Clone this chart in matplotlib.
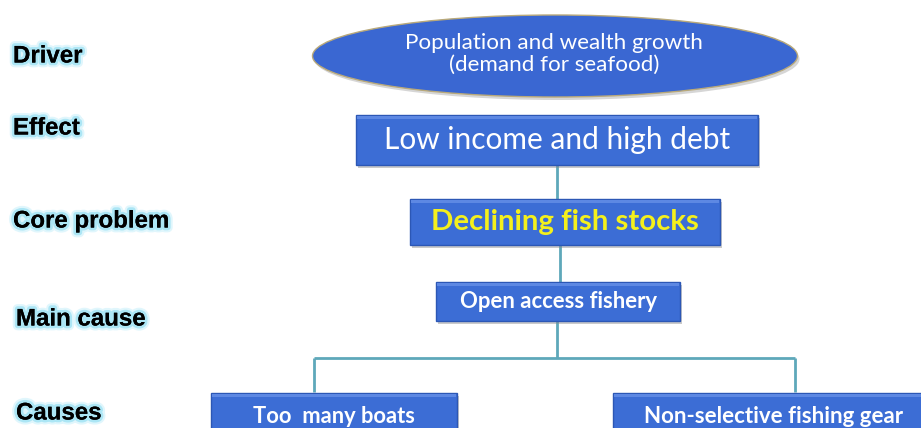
import matplotlib.pyplot as plt
from matplotlib.patches import Ellipse, Rectangle
import matplotlib.patheffects as pe

# level names on the left
levels = ['Driver', 'Effect', 'Core problem', 'Main cause', 'Causes']

# boxes of the tree
driver_text = 'Population and wealth growth\n(demand for seafood)'
effect_text = 'Low income and high debt'
core_text = 'Declining fish stocks'
main_cause_text = 'Open access fishery'
cause_texts = ['Too  many boats', 'Non-selective fishing gear']

W, H = 921, 428
fig = plt.figure(figsize=(W / 100, H / 100), dpi=100)
ax = fig.add_axes([0, 0, 1, 1])
ax.set_xlim(0, W)
ax.set_ylim(H, 0)
ax.axis('off')
renderer = fig.canvas.get_renderer()

BLUE = '#3c6dd5'
EDGE = '#2c57b5'
LINE = '#5ea8ba'


def fit_width(t, width):
    w = t.get_window_extent(renderer).width
    t.set_fontsize(t.get_fontsize() * width / w)


def box(x0, x1, y0, y1, text, width, color='white', bold=False):
    ax.add_patch(Rectangle((x0 + 2, y0 + 3), x1 - x0, y1 - y0, color='#8a8a8a', alpha=0.45, lw=0, zorder=1))
    ax.add_patch(Rectangle((x0, y0), x1 - x0, y1 - y0, facecolor=BLUE, edgecolor=EDGE, lw=1, zorder=2))
    ax.add_patch(Rectangle((x0 + 1, y0 + 1), x1 - x0 - 2, 3, facecolor='#5d88e3', lw=0, zorder=3))
    t = ax.text((x0 + x1) / 2, (y0 + y1) / 2, text, color=color, ha='center', va='center',
                family='Lato', fontweight='bold' if bold else 'normal', fontsize=14, zorder=4)
    fit_width(t, width)
    return t


# connectors
lk = dict(color=LINE, lw=2, zorder=0, solid_capstyle='butt')
ax.plot([557, 557], [165, 199], **lk)
ax.plot([560, 560], [245, 282], **lk)
ax.plot([557, 557], [321, 358], **lk)
ax.plot([314, 795], [358, 358], **lk)
ax.plot([314, 314], [358, 392], **lk)
ax.plot([795, 795], [358, 392], **lk)

# driver ellipse
ax.add_patch(Ellipse((557, 59), 485, 82, color='#999999', alpha=0.4, lw=0, zorder=1))
ax.add_patch(Ellipse((555, 56), 485, 82, facecolor='#3a67d2', edgecolor='#b9a97a', lw=1, zorder=2))
t = ax.text(554, 54, driver_text, color='white', ha='center', va='center', family='Lato',
            fontsize=14, linespacing=1.15, zorder=4)
fit_width(t, 298)

box(356, 758, 115, 165, effect_text, 347)
box(410, 720, 199, 245, core_text, 270, color='#f4f01c', bold=True)
box(436, 680, 282, 321, main_cause_text, 197, bold=True)
box(211, 457, 393, 440, cause_texts[0], 162, bold=True)
box(613, 935, 393, 440, cause_texts[1], 259, bold=True)

# left-hand level labels with glow
glow = [pe.withStroke(linewidth=7, foreground='#d3f3fc', alpha=0.7),
        pe.withStroke(linewidth=4, foreground='#9fe2f4', alpha=0.8), pe.Normal()]
label_x = [13, 13, 13, 16, 16]
label_y = [56, 128, 221, 319, 413]
texts = []
for name, x, y in zip(levels, label_x, label_y):
    texts.append(ax.text(x, y, name, ha='left', va='center', family='Liberation Sans',
                         fontweight='bold', fontsize=13, color='black', path_effects=glow))
core = texts[2]
scale = 156 / core.get_window_extent(renderer).width
for t in texts:
    t.set_fontsize(13 * scale)

fig.savefig('out.png', dpi=100)
